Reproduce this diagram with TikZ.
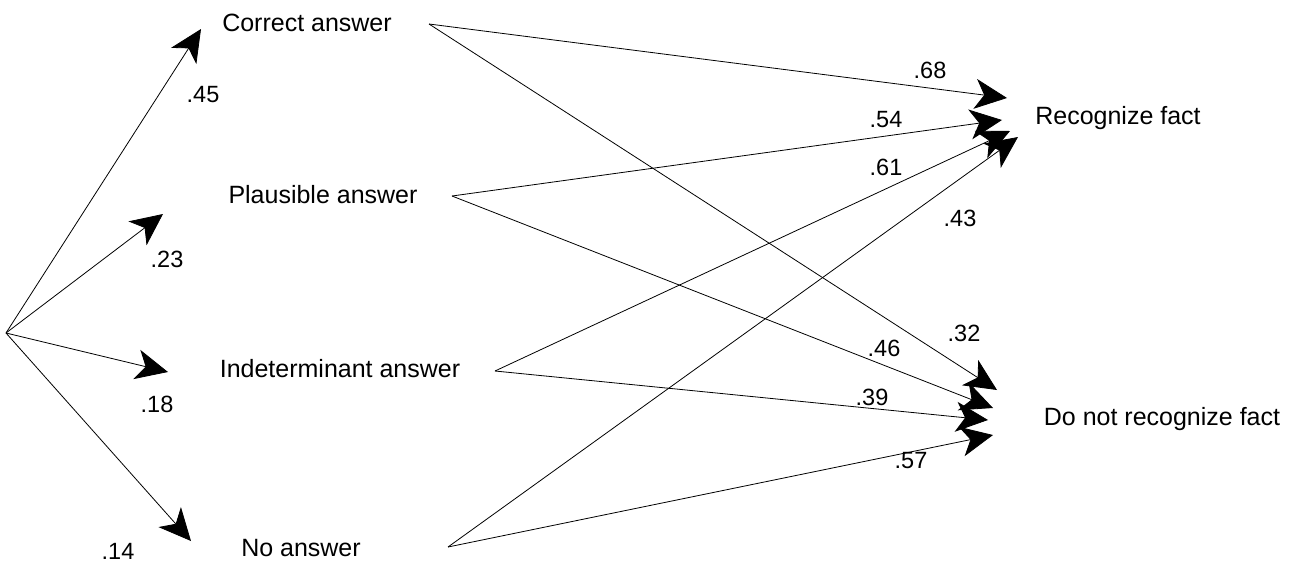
\documentclass[tikz,border=0pt]{standalone}
\usepackage{fontspec}
\setmainfont{Liberation Sans}
\usetikzlibrary{arrows.meta}
\begin{document}
\begin{tikzpicture}[x=1pt,y=-1pt,
  lbl/.style={font=\fontsize{25}{29}\selectfont, inner sep=0pt},
  num/.style={font=\fontsize{23.5}{27}\selectfont, inner sep=0pt},
  con/.style={line width=0.8pt, -{Stealth[length=32pt,width=30pt,inset=9pt]}}]
\useasboundingbox (0,0) rectangle (1303,565);
% text nodes
\node[lbl] (ca) at (307,23) {Correct answer};
\node[lbl] (pa) at (323,195) {Plausible answer};
\node[lbl] (ia) at (340,369) {Indeterminant answer};
\node[lbl] (na) at (301,548) {No answer};
\node[lbl] (rf) at (1118,118) {Recognize fact};
\node[lbl] (dn) at (1162,419) {Do not recognize fact};
% origin and connector end points
\coordinate (o) at (6,333);
\coordinate (tca) at (201,29);
\coordinate (tpa) at (163,214);
\coordinate (tia) at (168,372);
\coordinate (tna) at (191,541);
\coordinate (sca) at (429,24);
\coordinate (spa) at (452,196);
\coordinate (sia) at (495,371);
\coordinate (sna) at (448,547);
\coordinate (r1) at (1007,98);
\coordinate (r2) at (1002,120);
\coordinate (r3) at (1010,131);
\coordinate (r4) at (1018,137);
\coordinate (d1) at (997,390);
\coordinate (d2) at (993,408);
\coordinate (d3) at (988,420);
\coordinate (d4) at (993,435);
% left fan
\draw[con] (o) -- (tca);
\draw[con] (o) -- (tpa);
\draw[con] (o) -- (tia);
\draw[con] (o) -- (tna);
% right connectors
\draw[con] (sca) -- (r1);
\draw[con] (spa) -- (r2);
\draw[con] (sia) -- (r3);
\draw[con] (sna) -- (r4);
\draw[con] (sca) -- (d1);
\draw[con] (spa) -- (d2);
\draw[con] (sia) -- (d3);
\draw[con] (sna) -- (d4);
% numbers
\node[num] (n45) at (203,95) {.45};
\node[num] (n23) at (167,259) {.23};
\node[num] (n18) at (157,404) {.18};
\node[num] (n14) at (118,551) {.14};
\node[num] (n68) at (930,70) {.68};
\node[num] (n54) at (886,120) {.54};
\node[num] (n61) at (886,167) {.61};
\node[num] (n43) at (960,218) {.43};
\node[num] (n32) at (964,333) {.32};
\node[num] (n46) at (884,348) {.46};
\node[num] (n39) at (872,397) {.39};
\node[num] (n57) at (911,461) {.57};
\end{tikzpicture}
\end{document}
